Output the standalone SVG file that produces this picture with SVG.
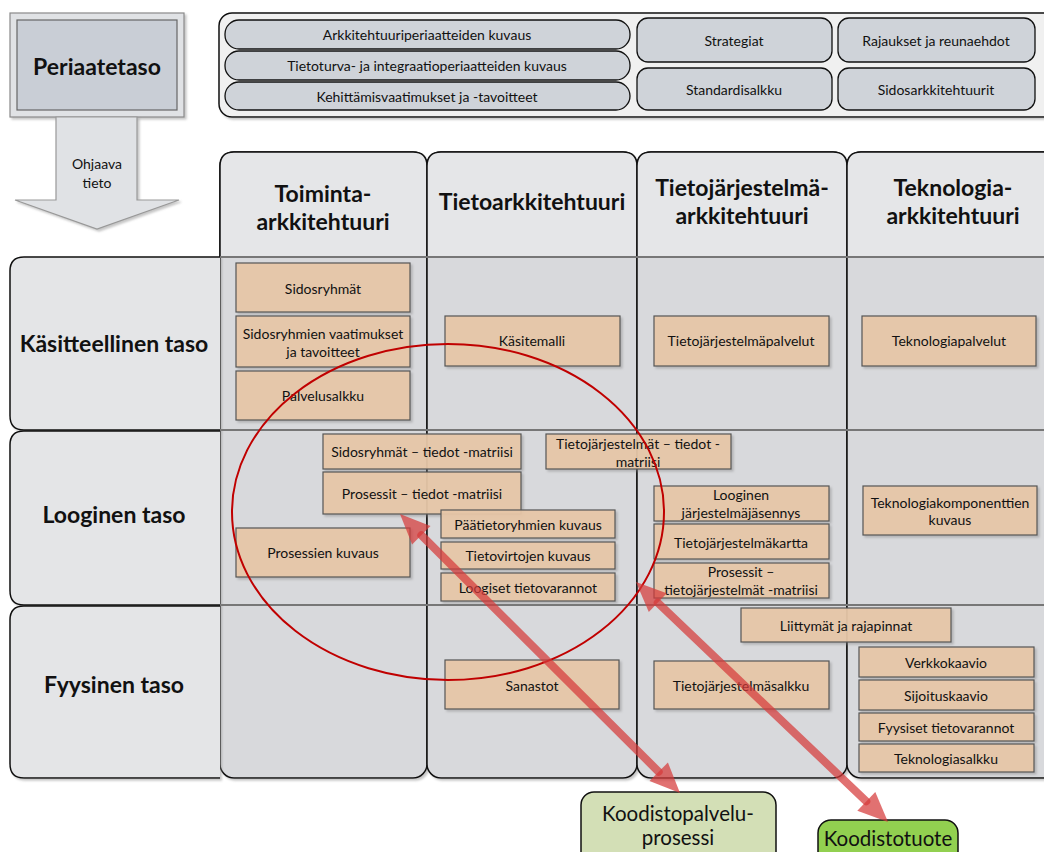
<svg xmlns="http://www.w3.org/2000/svg" width="1044" height="852" viewBox="0 0 1044 852">
  <defs>
    <filter id="shadow" x="-10%" y="-10%" width="130%" height="140%">
      <feDropShadow dx="2" dy="2" stdDeviation="1" flood-color="#808080" flood-opacity="0.45"/>
    </filter>
    <style>
      text { font-family: Lato, "Liberation Sans", sans-serif; fill: #111; text-anchor: middle; dominant-baseline: central; }
      .big { font-size: 23px; font-weight: bold; }
      .small { font-size: 14px; }
      .item { fill: #e8c8a8; fill-opacity: 0.92; stroke: #555; stroke-width: 1.2; filter: url(#shadow); }
      .pill { fill: #cfd3d9; stroke: #111; stroke-width: 1.3; }
      .col { fill: #d8d9dc; stroke: #111; stroke-width: 1.5; }
      .head { fill: #e5e6e8; stroke: #111; stroke-width: 1.5; }
      .rowlabel { fill: #e4e5e7; stroke: #111; stroke-width: 1.5; }
      .grid { stroke: #777; stroke-width: 2; }
      .arrow { fill: #d63a3a; fill-opacity: 0.72; }
      .shaft { stroke: #d63a3a; stroke-opacity: 0.72; stroke-width: 8; stroke-linecap: round; }
      .bottom { font-size: 20.5px; }
    </style>
  </defs>

  <!-- principle level box and guiding arrow -->
  <g id="periaatetaso">
    <rect x="10" y="13" width="174" height="104" fill="#e0e2e5" stroke="#8a8a8a" stroke-width="1.2" filter="url(#shadow)"/>
    <rect x="17" y="20" width="160" height="90" fill="#c9ced6" stroke="#666" stroke-width="1.2"/>
    <text class="big" x="97" y="66">Periaatetaso</text>
  </g>
  <g id="ohjaava-tieto">
    <path d="M56,117 H137 V200 H179 L97,229 L15,200 H56 Z" fill="#e0e2e5" stroke="#999" stroke-width="1.2" filter="url(#shadow)"/>
    <text class="small" x="97" y="163">Ohjaava</text>
    <text class="small" x="97" y="182">tieto</text>
  </g>

  <!-- top container with principle items -->
  <g id="periaatteet">
    <rect x="219" y="13" width="840" height="104" rx="13" fill="#f0f0f0" stroke="#111" stroke-width="1.5" filter="url(#shadow)"/>
    <rect class="pill" x="225" y="20" width="405" height="29" rx="14"/>
    <text class="small" x="427" y="34">Arkkitehtuuriperiaatteiden kuvaus</text>
    <rect class="pill" x="225" y="51" width="405" height="29" rx="14"/>
    <text class="small" x="427" y="65">Tietoturva- ja integraatioperiaatteiden kuvaus</text>
    <rect class="pill" x="225" y="82" width="405" height="28" rx="14"/>
    <text class="small" x="427" y="96">Kehittämisvaatimukset ja -tavoitteet</text>
    <rect class="pill" x="637" y="18" width="195" height="44" rx="11"/>
    <text class="small" x="734" y="40">Strategiat</text>
    <rect class="pill" x="838" y="18" width="197" height="44" rx="11"/>
    <text class="small" x="936" y="40">Rajaukset ja reunaehdot</text>
    <rect class="pill" x="637" y="68" width="195" height="42" rx="11"/>
    <text class="small" x="734" y="89">Standardisalkku</text>
    <rect class="pill" x="838" y="68" width="197" height="42" rx="11"/>
    <text class="small" x="936" y="89">Sidosarkkitehtuurit</text>
  </g>

  <!-- architecture columns -->
  <g id="sarakkeet">
    <rect class="col" x="220" y="152" width="207" height="626" rx="14" filter="url(#shadow)"/>
    <rect class="col" x="427" y="152" width="210" height="626" rx="14" filter="url(#shadow)"/>
    <rect class="col" x="637" y="152" width="210" height="626" rx="14" filter="url(#shadow)"/>
    <rect class="col" x="847" y="152" width="215" height="626" rx="14" filter="url(#shadow)"/>
    <path class="head" d="M220,257 V166 Q220,152 234,152 H413 Q427,152 427,166 V257"/>
    <path class="head" d="M427,257 V166 Q427,152 441,152 H623 Q637,152 637,166 V257"/>
    <path class="head" d="M637,257 V166 Q637,152 651,152 H833 Q847,152 847,166 V257"/>
    <path class="head" d="M847,257 V166 Q847,152 861,152 H1062 V257"/>
  </g>
  <g id="toiminta-arkkitehtuuri">
    <text class="big" x="323" y="193">Toiminta-</text>
    <text class="big" x="323" y="221">arkkitehtuuri</text>
  </g>
  <g id="tietoarkkitehtuuri">
    <text class="big" x="532" y="201">Tietoarkkitehtuuri</text>
  </g>
  <g id="tietojarjestelmaarkkitehtuuri">
    <text class="big" x="742" y="187">Tietojärjestelmä-</text>
    <text class="big" x="742" y="215">arkkitehtuuri</text>
  </g>
  <g id="teknologia-arkkitehtuuri">
    <text class="big" x="953" y="187">Teknologia-</text>
    <text class="big" x="953" y="215">arkkitehtuuri</text>
  </g>

  <!-- level rows -->
  <g id="rivit">
    <line class="grid" x1="220" y1="257" x2="1044" y2="257" stroke="#555"/>
    <line class="grid" x1="220" y1="430" x2="1044" y2="430"/>
    <line class="grid" x1="220" y1="605" x2="1044" y2="605"/>
  </g>
  <g id="kasitteellinen-taso">
    <path class="rowlabel" d="M220,257 H24 Q10,257 10,271 V416 Q10,430 24,430 H220" filter="url(#shadow)"/>
    <text class="big" x="114" y="343">Käsitteellinen taso</text>
  </g>
  <g id="looginen-taso">
    <path class="rowlabel" d="M220,431 H24 Q10,431 10,445 V591 Q10,605 24,605 H220" filter="url(#shadow)"/>
    <text class="big" x="114" y="514">Looginen taso</text>
  </g>
  <g id="fyysinen-taso">
    <path class="rowlabel" d="M220,606 H24 Q10,606 10,620 V764 Q10,778 24,778 H220" filter="url(#shadow)"/>
    <text class="big" x="114" y="684">Fyysinen taso</text>
  </g>

  <!-- conceptual level items -->
  <g id="sidosryhmat"><rect class="item" x="236" y="263" width="174" height="49"/><text class="small" x="323" y="288">Sidosryhmät</text></g>
  <g id="sidosryhmien-vaatimukset"><rect class="item" x="236" y="316" width="174" height="51"/><text class="small" x="323" y="333">Sidosryhmien vaatimukset</text><text class="small" x="323" y="351">ja tavoitteet</text></g>
  <g id="palvelusalkku"><rect class="item" x="236" y="371" width="174" height="49"/><text class="small" x="323" y="395">Palvelusalkku</text></g>
  <g id="kasitemalli"><rect class="item" x="445" y="316" width="175" height="50"/><text class="small" x="532" y="340">Käsitemalli</text></g>
  <g id="tietojarjestelmapalvelut"><rect class="item" x="654" y="316" width="175" height="50"/><text class="small" x="741" y="340">Tietojärjestelmäpalvelut</text></g>
  <g id="teknologiapalvelut"><rect class="item" x="862" y="316" width="174" height="50"/><text class="small" x="949" y="340">Teknologiapalvelut</text></g>

  <!-- logical level items -->
  <g id="sidosryhmat-tiedot"><rect class="item" x="323" y="434" width="198" height="35"/><text class="small" x="422" y="451">Sidosryhmät – tiedot -matriisi</text></g>
  <g id="prosessit-tiedot"><rect class="item" x="323" y="472" width="198" height="42"/><text class="small" x="422" y="493">Prosessit – tiedot -matriisi</text></g>
  <g id="tietojarjestelmat-tiedot"><rect class="item" x="546" y="434" width="185" height="35"/><text class="small" x="638" y="443">Tietojärjestelmät – tiedot -</text><text class="small" x="638" y="461">matriisi</text></g>
  <g id="paatietoryhmat"><rect class="item" x="441" y="510" width="174" height="28"/><text class="small" x="528" y="524">Päätietoryhmien kuvaus</text></g>
  <g id="tietovirrat"><rect class="item" x="441" y="542" width="174" height="27"/><text class="small" x="528" y="555">Tietovirtojen kuvaus</text></g>
  <g id="loogiset-tietovarannot"><rect class="item" x="441" y="573" width="174" height="28"/><text class="small" x="528" y="587">Loogiset tietovarannot</text></g>
  <g id="prosessien-kuvaus"><rect class="item" x="236" y="528" width="174" height="49"/><text class="small" x="323" y="552">Prosessien kuvaus</text></g>
  <g id="looginen-jarjestelmajasennys"><rect class="item" x="654" y="486" width="175" height="35"/><text class="small" x="741" y="494">Looginen</text><text class="small" x="741" y="512">järjestelmäjäsennys</text></g>
  <g id="tietojarjestelmakartta"><rect class="item" x="654" y="524" width="175" height="35"/><text class="small" x="741" y="542">Tietojärjestelmäkartta</text></g>
  <g id="prosessit-tietojarjestelmat"><rect class="item" x="654" y="563" width="175" height="35"/><text class="small" x="741" y="571">Prosessit –</text><text class="small" x="741" y="589">tietojärjestelmät -matriisi</text></g>
  <g id="teknologiakomponentit"><rect class="item" x="863" y="486" width="174" height="49"/><text class="small" x="950" y="502">Teknologiakomponenttien</text><text class="small" x="950" y="519">kuvaus</text></g>

  <!-- physical level items -->
  <g id="liittymat"><rect class="item" x="741" y="608" width="210" height="34"/><text class="small" x="846" y="625">Liittymät ja rajapinnat</text></g>
  <g id="sanastot"><rect class="item" x="445" y="660" width="174" height="49"/><text class="small" x="532" y="685">Sanastot</text></g>
  <g id="tietojarjestelmasalkku"><rect class="item" x="654" y="661" width="175" height="48"/><text class="small" x="741" y="685">Tietojärjestelmäsalkku</text></g>
  <g id="verkkokaavio"><rect class="item" x="859" y="647" width="175" height="30"/><text class="small" x="946" y="662">Verkkokaavio</text></g>
  <g id="sijoituskaavio"><rect class="item" x="859" y="680" width="175" height="30"/><text class="small" x="946" y="695">Sijoituskaavio</text></g>
  <g id="fyysiset-tietovarannot"><rect class="item" x="859" y="713" width="175" height="28"/><text class="small" x="946" y="727">Fyysiset tietovarannot</text></g>
  <g id="teknologiasalkku"><rect class="item" x="859" y="744" width="175" height="28"/><text class="small" x="946" y="758">Teknologiasalkku</text></g>

  <!-- highlighted scope -->
  <g id="rajaus">
    <ellipse cx="448" cy="512" rx="216" ry="168" fill="none" stroke="#c00000" stroke-width="2"/>
  </g>

  <!-- code service nodes -->
  <g id="koodistopalveluprosessi">
    <rect x="581" y="792" width="195" height="80" rx="13" fill="#d3dfb6" stroke="#111" stroke-width="1.5"/>
    <text class="bottom" x="678" y="813">Koodistopalvelu-</text>
    <text class="bottom" x="678" y="837">prosessi</text>
  </g>
  <g id="koodistotuote">
    <rect x="818" y="820" width="140" height="50" rx="13" fill="#92d050" stroke="#111" stroke-width="1.5"/>
    <text class="bottom" x="888" y="838">Koodistotuote</text>
  </g>

  <!-- connectors -->
  <g id="yhteydet">
    <line class="shaft" x1="421.3" y1="535.2" x2="658.7" y2="771.8"/>
    <polygon class="arrow" points="400,514 412.1,544.4 430.5,526.0"/>
    <polygon class="arrow" points="680,793 649.5,781.0 667.9,762.6"/>
    <line class="shaft" x1="657.7" y1="602.7" x2="866.3" y2="801.3"/>
    <polygon class="arrow" points="636,582 648.8,612.1 666.7,593.3"/>
    <polygon class="arrow" points="888,822 857.3,810.7 875.3,791.9"/>
  </g>
</svg>
